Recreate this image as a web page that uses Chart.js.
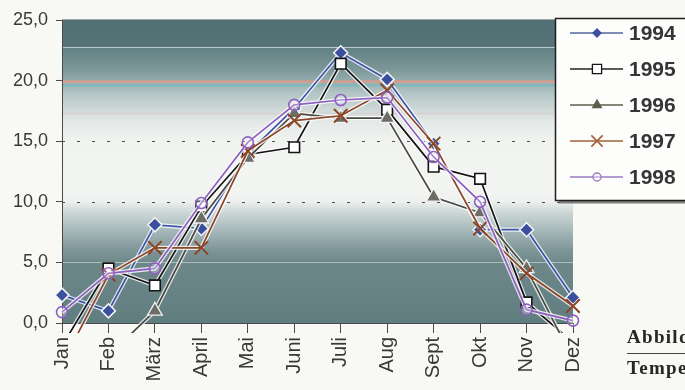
<!DOCTYPE html>
<html>
<head>
<meta charset="utf-8">
<script src="https://cdn.jsdelivr.net/npm/chart.js@4/dist/chart.umd.min.js"></script>
<style>
  html, body { margin: 0; padding: 0; background: #f8f8f4; }
  #wrap { position: relative; width: 685px; height: 390px; overflow: hidden; }
  #c { position: absolute; left: 0; top: 0; }
  .cap { position: absolute; left: 627px; font-family: "Liberation Serif", "DejaVu Serif", serif;
         font-weight: bold; font-size: 19px; letter-spacing: 1.3px; color: #262626; white-space: nowrap; line-height: 1; }
  .rule { position: absolute; left: 627px; top: 353px; width: 70px; border-top: 1px solid #444; }
</style>
</head>
<body>
<div id="wrap">
  <canvas id="c" width="685" height="390"></canvas>
  <div class="cap" style="top:327px">Abbildung</div>
  <div class="rule"></div>
  <div class="cap" style="top:358px">Temperatur</div>
</div>
<script>
// Monthly mean temperatures (°C), one array per year
const months = ['Jan', 'Feb', 'März', 'April', 'Mai', 'Juni', 'Juli', 'Aug', 'Sept', 'Okt', 'Nov', 'Dez'];
const t1994 = [2.3, 1.0, 8.1, 7.8, 14.0, 17.7, 22.3, 20.1, 14.8, 7.7, 7.7, 2.1];
const t1995 = [-1.9, 4.5, 3.1, 9.6, 13.9, 14.5, 21.4, 17.6, 12.9, 11.9, 1.7, -1.6];
const t1996 = [-1.5, -2.7, 1.0, 8.6, 13.6, 17.3, 16.9, 16.9, 10.4, 9.1, 4.5, -3.0];
const t1997 = [-3.4, 4.0, 6.2, 6.2, 14.2, 16.7, 17.1, 19.2, 14.8, 7.8, 4.1, 1.4];
const t1998 = [0.9, 4.1, 4.5, 9.9, 14.9, 18.0, 18.4, 18.6, 13.7, 10.0, 1.1, 0.2];
const years = ['1994', '1995', '1996', '1997', '1998'];
const yTicks = ['0,0', '5,0', '10,0', '15,0', '20,0', '25,0'];

// Per-series styling
const looks = [
  { line: '#3d55a8', style: 'rectRot',  r: 7,   fill: '#3b4f9f', edge: '#f4f4f4', ew: 1.5, legR: 4,   legFill: '#3b4f9f', legEdge: '#3b4f9f', legLine: '#55669f' },
  { line: '#151515', style: 'rect',     r: 7.5, fill: '#ffffff', edge: '#151515', ew: 1.6, legR: 6.5, legFill: '#ffffff', legEdge: '#151515', legLine: '#222222' },
  { line: '#4a4a42', style: 'triangle', r: 8.5, fill: '#6d6d66', edge: '#f2f2f2', ew: 1.3, legR: 5,   legFill: '#5e5e4c', legEdge: '#5e5e4c', legLine: '#5e5e4c' },
  { line: '#8b4527', style: 'crossRot', r: 9.5, fill: '#8b4527', edge: '#8b4527', ew: 2,   legR: 8,   legFill: '#a0603a', legEdge: '#a0603a', legLine: '#a0603a' },
  { line: '#8d5fc0', style: 'circle',   r: 5.5, fill: 'rgba(255,255,255,0.25)', edge: '#8d5fc0', ew: 1.6, legR: 4, legFill: 'rgba(255,255,255,0.4)', legEdge: '#9a78c0', legLine: '#9a78c0' }
];
const series = [t1994, t1995, t1996, t1997, t1998];

// Lines may run a little past the plot edges (below the zero line, as in the print)
const lineClip = { left: 10, right: 10, top: 10, bottom: 10 };

const datasets = [];
series.forEach((vals, i) => {
  const lk = looks[i];
  // the series itself (later years drawn on top)
  datasets.push({
    label: years[i], data: vals, order: (4 - i) * 2,
    borderColor: lk.line, borderWidth: 1.7, tension: 0,
    pointStyle: lk.style, pointRadius: lk.r, pointHoverRadius: lk.r,
    pointBackgroundColor: lk.fill, pointBorderColor: lk.edge, pointBorderWidth: lk.ew,
    clip: lineClip
  });
  // thin white halo under each line
  datasets.push({
    label: years[i] + '_halo', halo: true, data: vals, order: (4 - i) * 2 + 1,
    borderColor: 'rgba(255,255,255,0.8)', borderWidth: 4.2, tension: 0,
    pointRadius: 0, pointHoverRadius: 0, clip: lineClip
  });
});

// Horizontal shading of the plot area, keyed by temperature
const bandStops = [
  [25.0, 'rgb(82,112,115)'], [22.85, 'rgb(86,116,119)'], [22.75, 'rgb(98,128,131)'],
  [21.0, 'rgb(122,150,152)'], [20.0, 'rgb(148,171,172)'], [19.0, 'rgb(178,196,196)'],
  [17.8, 'rgb(203,214,213)'], [16.6, 'rgb(228,233,231)'], [15.0, 'rgb(241,243,240)'],
  [11.0, 'rgb(243,245,242)'], [10.0, 'rgb(236,240,238)'], [9.2, 'rgb(206,217,216)'],
  [7.5, 'rgb(163,181,182)'], [6.0, 'rgb(126,149,151)'], [5.0, 'rgb(110,136,138)'],
  [0.0, 'rgb(96,125,128)']
];
const accentLines = [
  { v: 22.8, color: 'rgba(196,208,208,0.9)', w: 1.2, dash: [] },
  { v: 20.0, color: 'rgba(232,150,135,0.95)', w: 2, dash: [] },
  { v: 19.6, color: 'rgba(112,186,192,0.75)', w: 2, dash: [] },
  { v: 17.3, color: 'rgba(214,200,200,0.6)', w: 1.5, dash: [] },
  { v: 15.0, color: 'rgba(60,60,60,0.9)', w: 1, dash: [3, 12] },
  { v: 10.0, color: 'rgba(60,60,60,0.9)', w: 1, dash: [3, 12] },
  { v: 5.0, color: 'rgba(225,232,232,0.55)', w: 1.2, dash: [] }
];

const backdrop = {
  id: 'backdrop',
  beforeDraw(chart) {
    const { ctx, chartArea: a, scales: { y } } = chart;
    const h = a.bottom - a.top;
    ctx.save();
    const g = ctx.createLinearGradient(0, a.top, 0, a.bottom);
    bandStops.forEach(([v, c]) => g.addColorStop(Math.min(1, Math.max(0, (y.getPixelForValue(v) - a.top) / h)), c));
    ctx.fillStyle = g;
    ctx.fillRect(a.left, a.top, a.right - a.left, h);
    accentLines.forEach(l => {
      const py = Math.round(y.getPixelForValue(l.v)) + 0.5;
      ctx.beginPath();
      ctx.setLineDash(l.dash);
      ctx.strokeStyle = l.color;
      ctx.lineWidth = l.w;
      ctx.moveTo(a.left, py);
      ctx.lineTo(a.right, py);
      ctx.stroke();
    });
    ctx.setLineDash([]);
    ctx.strokeStyle = 'rgba(120,132,132,0.7)';
    ctx.lineWidth = 1;
    ctx.beginPath();
    ctx.moveTo(a.left, a.top - 0.5);
    ctx.lineTo(a.right, a.top - 0.5);
    ctx.stroke();
    ctx.restore();
  }
};

function marker(ctx, style, x, y, r, fill, edge, lw) {
  ctx.beginPath();
  if (style === 'rectRot') {
    ctx.moveTo(x - r, y); ctx.lineTo(x, y - r); ctx.lineTo(x + r, y); ctx.lineTo(x, y + r); ctx.closePath();
  } else if (style === 'rect') {
    const s = r * Math.SQRT1_2;
    ctx.rect(x - s, y - s, 2 * s, 2 * s);
  } else if (style === 'triangle') {
    for (let k = 0; k < 3; k++) {
      const ang = k * 2 * Math.PI / 3;
      const px = x + Math.sin(ang) * r, py = y - Math.cos(ang) * r;
      if (k === 0) ctx.moveTo(px, py); else ctx.lineTo(px, py);
    }
    ctx.closePath();
  } else if (style === 'crossRot') {
    const d = r * Math.SQRT1_2;
    ctx.moveTo(x - d, y - d); ctx.lineTo(x + d, y + d);
    ctx.moveTo(x - d, y + d); ctx.lineTo(x + d, y - d);
  } else {
    ctx.arc(x, y, r, 0, 2 * Math.PI);
  }
  if (style !== 'crossRot') { ctx.fillStyle = fill; ctx.fill(); }
  ctx.lineWidth = lw; ctx.strokeStyle = edge; ctx.stroke();
}

// Boxed legend in the upper right corner, overlapping the plot
const boxLegend = {
  id: 'boxLegend',
  afterDraw(chart) {
    const ctx = chart.ctx;
    const x0 = 555.5, y0 = 18.5, w = 140, h = 182, rowTop = 33, rowGap = 36;
    ctx.save();
    ctx.fillStyle = 'rgba(105,105,105,0.85)';
    ctx.fillRect(x0 + 3, y0 + 3, w, h);
    ctx.fillStyle = '#fdfdfb';
    ctx.fillRect(x0, y0, w, h);
    ctx.strokeStyle = '#1e1e1e';
    ctx.lineWidth = 1.5;
    ctx.strokeRect(x0, y0, w, h);
    const items = chart.data.datasets.filter(d => !d.halo);
    items.forEach((d, i) => {
      const lk = looks[i];
      const cy = rowTop + i * rowGap;
      ctx.beginPath();
      ctx.strokeStyle = lk.legLine;
      ctx.lineWidth = 1.4;
      ctx.moveTo(570, cy); ctx.lineTo(623, cy);
      ctx.stroke();
      marker(ctx, lk.style, 597, cy, lk.legR, lk.legFill, lk.legEdge, lk.style === 'crossRot' ? 1.6 : 1.3);
      ctx.fillStyle = '#353535';
      ctx.font = 'bold 21px "Liberation Sans", Arial, sans-serif';
      ctx.textBaseline = 'middle';
      ctx.textAlign = 'left';
      ctx.fillText(d.label, 629, cy + 1);
    });
    ctx.restore();
  }
};

new Chart(document.getElementById('c'), {
  type: 'line',
  data: { labels: months, datasets },
  plugins: [backdrop, boxLegend],
  options: {
    responsive: false,
    animation: false,
    events: [],
    layout: { padding: { top: 20, right: 112, left: 0, bottom: 0 } },
    plugins: { legend: { display: false }, tooltip: { enabled: false } },
    scales: {
      x: {
        type: 'category',
        offset: false,
        grid: { drawOnChartArea: false, drawTicks: true, tickLength: 10, tickColor: '#4a4a4a', tickWidth: 1 },
        border: { display: true, color: '#4a4a4a', width: 1 },
        ticks: {
          autoSkip: false, maxRotation: 90, minRotation: 90, padding: 4,
          color: '#383838', font: { family: '"Liberation Sans", Arial, sans-serif', size: 20 }
        },
        afterFit(s) { s.height = 67; }
      },
      y: {
        min: 0, max: 25,
        grid: { drawOnChartArea: false, drawTicks: true, tickLength: 6, tickColor: '#4a4a4a' },
        border: { display: true, color: '#4a4a4a', width: 1 },
        ticks: {
          stepSize: 5, padding: 8,
          color: '#383838', font: { family: '"Liberation Sans", Arial, sans-serif', size: 18 },
          callback: (v, i) => yTicks[i]
        },
        afterFit(s) { s.width = 62; }
      }
    }
  }
});
</script>
</body>
</html>
